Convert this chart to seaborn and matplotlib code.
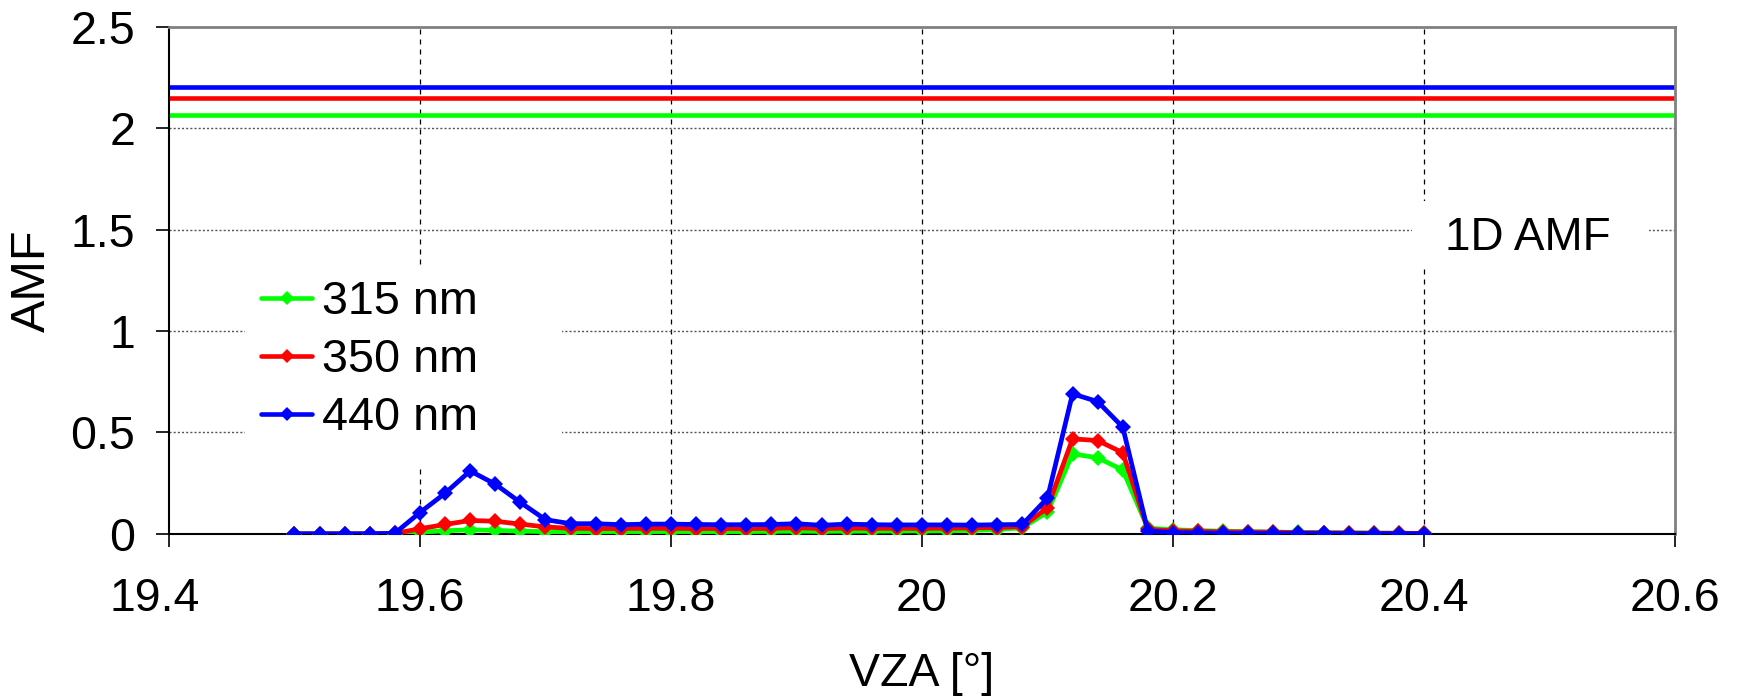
import matplotlib
matplotlib.use("Agg")
import matplotlib.pyplot as plt
import matplotlib.transforms as mtransforms
from matplotlib.ticker import FuncFormatter
from matplotlib.lines import Line2D
from matplotlib.patches import Rectangle
import seaborn as sns
import pandas as pd

# Viewing zenith angle samples [deg]
vza = [19.50, 19.52, 19.54, 19.56, 19.58, 19.60, 19.62, 19.64, 19.66, 19.68,
       19.70, 19.72, 19.74, 19.76, 19.78, 19.80, 19.82, 19.84, 19.86, 19.88,
       19.90, 19.92, 19.94, 19.96, 19.98, 20.00, 20.02, 20.04, 20.06, 20.08,
       20.10, 20.12, 20.14, 20.16, 20.18, 20.20, 20.22, 20.24, 20.26, 20.28,
       20.30, 20.32, 20.34, 20.36, 20.38, 20.40]

amf_315 = [0.0, 0.0, 0.0, 0.0, 0.001, 0.008, 0.015, 0.020, 0.017, 0.013,
           0.011, 0.010, 0.011, 0.011, 0.011, 0.011, 0.011, 0.011, 0.011, 0.012,
           0.013, 0.012, 0.013, 0.013, 0.014, 0.014, 0.015, 0.017, 0.021, 0.030,
           0.107, 0.394, 0.375, 0.315, 0.028, 0.020, 0.016, 0.013, 0.011, 0.009,
           0.007, 0.006, 0.005, 0.004, 0.003, 0.002]

amf_350 = [0.0, 0.0, 0.0, 0.0, 0.002, 0.025, 0.046, 0.066, 0.062, 0.048,
           0.034, 0.027, 0.026, 0.026, 0.027, 0.027, 0.026, 0.026, 0.026, 0.027,
           0.030, 0.026, 0.028, 0.027, 0.027, 0.027, 0.028, 0.029, 0.031, 0.036,
           0.128, 0.468, 0.460, 0.400, 0.022, 0.015, 0.012, 0.010, 0.009, 0.008,
           0.006, 0.005, 0.004, 0.003, 0.003, 0.002]

amf_440 = [0.0, 0.0, 0.0, 0.0, 0.003, 0.105, 0.200, 0.310, 0.245, 0.155,
           0.070, 0.050, 0.050, 0.045, 0.048, 0.048, 0.046, 0.045, 0.045, 0.046,
           0.050, 0.042, 0.048, 0.045, 0.044, 0.044, 0.044, 0.043, 0.045, 0.046,
           0.176, 0.690, 0.652, 0.526, 0.015, 0.006, 0.004, 0.003, 0.003, 0.002,
           0.002, 0.002, 0.001, 0.001, 0.001, 0.001]

# Reference 1D air mass factors per wavelength
amf_1d = {"315 nm": 2.065, "350 nm": 2.15, "440 nm": 2.20}

series_names = ["315 nm", "350 nm", "440 nm"]
colors = {"315 nm": "#00FF00", "350 nm": "#FF0000", "440 nm": "#0000FF"}

x_ticks = [19.4, 19.6, 19.8, 20.0, 20.2, 20.4, 20.6]
y_ticks = [0, 0.5, 1, 1.5, 2, 2.5]

df = pd.DataFrame({
    "VZA": vza * 3,
    "AMF": amf_315 + amf_350 + amf_440,
    "wl": ["315 nm"] * len(vza) + ["350 nm"] * len(vza) + ["440 nm"] * len(vza),
})

sns.set_theme(style="white")
plt.rcParams["font.family"] = ["Liberation Sans", "DejaVu Sans"]
plt.rcParams["text.color"] = "black"
plt.rcParams["axes.labelcolor"] = "black"
plt.rcParams["xtick.color"] = "black"
plt.rcParams["ytick.color"] = "black"

fig = plt.figure(figsize=(17.4, 6.97), dpi=100)
ax = fig.add_axes([0.0971, 0.2341, 0.8655, 0.7277])

# 1D AMF reference levels
for name in series_names:
    ax.axhline(amf_1d[name], color=colors[name], lw=3.3, zorder=2)

sns.lineplot(data=df, x="VZA", y="AMF", hue="wl", hue_order=series_names,
             palette=colors, marker="D", markersize=8, markeredgewidth=0,
             linewidth=3.4, legend=False, ax=ax, zorder=3)

ax.set_xlim(19.4, 20.6)
ax.set_ylim(0, 2.5)
ax.set_xticks(x_ticks)
ax.set_yticks(y_ticks)
fmt = FuncFormatter(lambda v, p: f"{v:g}")
ax.xaxis.set_major_formatter(fmt)
ax.yaxis.set_major_formatter(fmt)

ax.set_xlabel("VZA [°]", fontsize=33.5, labelpad=22)
ax.set_ylabel("AMF", fontsize=35, labelpad=11)
ax.tick_params(axis="both", labelsize=33.5, direction="out", length=9.4,
               width=1.2, color="black", bottom=True, left=True)
ax.tick_params(axis="x", pad=22)
ax.tick_params(axis="y", pad=15)

# first x label sits slightly left of its tick
first_lbl = ax.get_xticklabels()[0]
first_lbl.set_transform(first_lbl.get_transform() +
                        mtransforms.ScaledTranslation(-10 / 72, 0,
                                                      fig.dpi_scale_trans))

# Grid: dashed verticals, dotted horizontals
for xv in x_ticks[1:-1]:
    ax.axvline(xv, color="black", lw=0.9, ls=(0, (4, 4)), zorder=1)
for yv in y_ticks[1:-1]:
    ax.axhline(yv, color="#555555", lw=1.0, ls=(0, (1.5, 1.5)), zorder=1)

for side in ["left", "bottom"]:
    ax.spines[side].set_color("black")
    ax.spines[side].set_linewidth(1.5)
for side in ["top", "right"]:
    ax.spines[side].set_color("#808080")
    ax.spines[side].set_linewidth(2.0)

# White backgrounds behind the legend and the annotation
ax.add_patch(Rectangle((0.0505, 0.1317), 0.2105, 0.398, transform=ax.transAxes,
                       facecolor="white", edgecolor="none", zorder=1.5))
ax.add_patch(Rectangle((0.8256, 0.5224), 0.1574, 0.1340, transform=ax.transAxes,
                       facecolor="white", edgecolor="none", zorder=1.5))

handles = [Line2D([0], [0], color=colors[n], lw=3.3, marker="D",
                  markersize=7, markeredgewidth=0) for n in series_names]
leg = ax.legend(handles, series_names, loc="upper left",
                bbox_to_anchor=(0.0611, 0.5004), fontsize=33.7, frameon=False,
                handlelength=1.1, handletextpad=0.21, labelspacing=0.3,
                borderpad=0, borderaxespad=0)
leg.set_zorder(5)

ax.text(20.4825, 1.40, "1D AMF", fontsize=33, ha="center", va="baseline",
        zorder=5)

fig.savefig("out.png", dpi=100)
